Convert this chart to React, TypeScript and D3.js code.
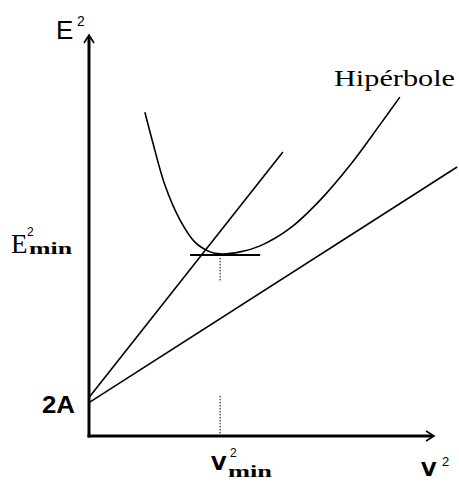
import React from "react";
import * as d3 from "d3";

// Abstract axes: V² along x, E² along y (arbitrary units)
const xDomain = [0, 10];
const yDomain = [0, 12];

// Straight lines starting at 2A: [x, y] end points
const steepLine = [
  [0, 1.15],
  [5.62, 8.5],
];
const lowerLine = [
  [0, 1.0],
  [10.67, 8.05],
];

// Hyperbola (V², E²) samples
const hyperV = [1.62, 1.83, 2.2, 2.64, 3.07, 3.51, 3.8, 4.38, 4.96, 5.83, 6.7, 7.57, 8.43, 9.01];
const hyperE = [9.69, 8.86, 7.51, 6.46, 5.8, 5.51, 5.45, 5.51, 5.69, 6.22, 7.06, 8.11, 9.31, 10.14];

// Minimum point and its tangent
const vMin = 3.8;
const eMin = 5.42;
const tangentSpan = [2.93, 4.96];
const dropUpper = [5.33, 4.61];
const dropLower = [1.2, 0.06];

export default function App() {
  const width = 459;
  const height = 483;
  const x = d3.scaleLinear().domain(xDomain).range([89, 434]);
  const y = d3.scaleLinear().domain(yDomain).range([436, 35]);

  const straight = d3
    .line<number[]>()
    .x((d) => x(d[0]))
    .y((d) => y(d[1]));

  const hyperPts = hyperV.map((v, i) => [v, hyperE[i]]);
  const curve = d3
    .line<number[]>()
    .x((d) => x(d[0]))
    .y((d) => y(d[1]))
    .curve(d3.curveCatmullRom.alpha(0.5));

  const x0 = x(0);
  const y0 = y(0);
  const yTop = y(yDomain[1]);
  const xEnd = x(xDomain[1]);

  return (
    <svg
      width={width}
      height={height}
      style={{ position: "absolute", left: 0, top: 0, background: "#fff" }}
    >
      {/* straight lines through 2A */}
      <path d={straight(steepLine) || ""} stroke="#000" strokeWidth={1.6} fill="none" />
      <path d={straight(lowerLine) || ""} stroke="#000" strokeWidth={1.6} fill="none" />

      {/* hyperbola */}
      <path d={curve(hyperPts) || ""} stroke="#000" strokeWidth={1.6} fill="none" />

      {/* horizontal tangent at the minimum */}
      <line
        x1={x(tangentSpan[0])}
        x2={x(tangentSpan[1])}
        y1={y(eMin)}
        y2={y(eMin)}
        stroke="#000"
        strokeWidth={2}
      />

      {/* dotted drops at V²min */}
      <line
        x1={x(vMin)}
        x2={x(vMin)}
        y1={y(dropUpper[0])}
        y2={y(dropUpper[1])}
        stroke="#000"
        strokeWidth={1}
        strokeDasharray="1.5,1.5"
      />
      <line
        x1={x(vMin)}
        x2={x(vMin)}
        y1={y(dropLower[0])}
        y2={y(dropLower[1])}
        stroke="#000"
        strokeWidth={1}
        strokeDasharray="1.5,1.5"
      />

      {/* axes */}
      <line x1={x0} x2={x0} y1={y0 + 1.5} y2={yTop + 2} stroke="#000" strokeWidth={3} />
      <line x1={x0 - 1.5} x2={xEnd - 2} y1={y0} y2={y0} stroke="#000" strokeWidth={3} />
      <path
        d={`M${x0 - 5},${yTop + 8} L${x0},${yTop} L${x0 + 5},${yTop + 8}`}
        stroke="#000"
        strokeWidth={1.6}
        fill="none"
      />
      <path
        d={`M${xEnd - 8},${y0 - 5} L${xEnd},${y0} L${xEnd - 8},${y0 + 5}`}
        stroke="#000"
        strokeWidth={1.6}
        fill="none"
      />

      {/* axis labels */}
      <text x={56} y={39} fontFamily="Liberation Sans, Arial, sans-serif" fontSize={26}>
        E
      </text>
      <text x={77} y={26} fontFamily="Liberation Sans, Arial, sans-serif" fontSize={14}>
        2
      </text>

      <text x={421} y={476} fontFamily="DejaVu Sans, sans-serif" fontWeight="bold" fontSize={20}>
        V
      </text>
      <text x={442} y={466} fontFamily="Liberation Sans, Arial, sans-serif" fontSize={13}>
        2
      </text>

      {/* E²min */}
      <text x={11} y={253} fontFamily="Liberation Serif, serif" fontSize={27}>
        E
      </text>
      <text x={27} y={236} fontFamily="Liberation Sans, Arial, sans-serif" fontSize={12}>
        2
      </text>
      <text
        x={29}
        y={254}
        fontFamily="Liberation Serif, serif"
        fontWeight="bold"
        fontSize={17}
        textLength={43}
        lengthAdjust="spacingAndGlyphs"
      >
        min
      </text>

      {/* 2A intercept */}
      <text
        x={42}
        y={413}
        fontFamily="Liberation Sans, Arial, sans-serif"
        fontWeight="bold"
        fontSize={24}
        textLength={33}
        lengthAdjust="spacingAndGlyphs"
      >
        2A
      </text>

      {/* V²min */}
      <text x={211} y={470} fontFamily="DejaVu Sans, sans-serif" fontWeight="bold" fontSize={20}>
        V
      </text>
      <text x={230} y={457} fontFamily="Liberation Sans, Arial, sans-serif" fontSize={12}>
        2
      </text>
      <text
        x={228}
        y={477}
        fontFamily="Liberation Serif, serif"
        fontWeight="bold"
        fontSize={17}
        textLength={44}
        lengthAdjust="spacingAndGlyphs"
      >
        min
      </text>

      {/* curve label */}
      <text
        x={334}
        y={86}
        fontFamily="Liberation Serif, serif"
        fontSize={24}
        textLength={121}
        lengthAdjust="spacingAndGlyphs"
      >
        Hipérbole
      </text>
    </svg>
  );
}
